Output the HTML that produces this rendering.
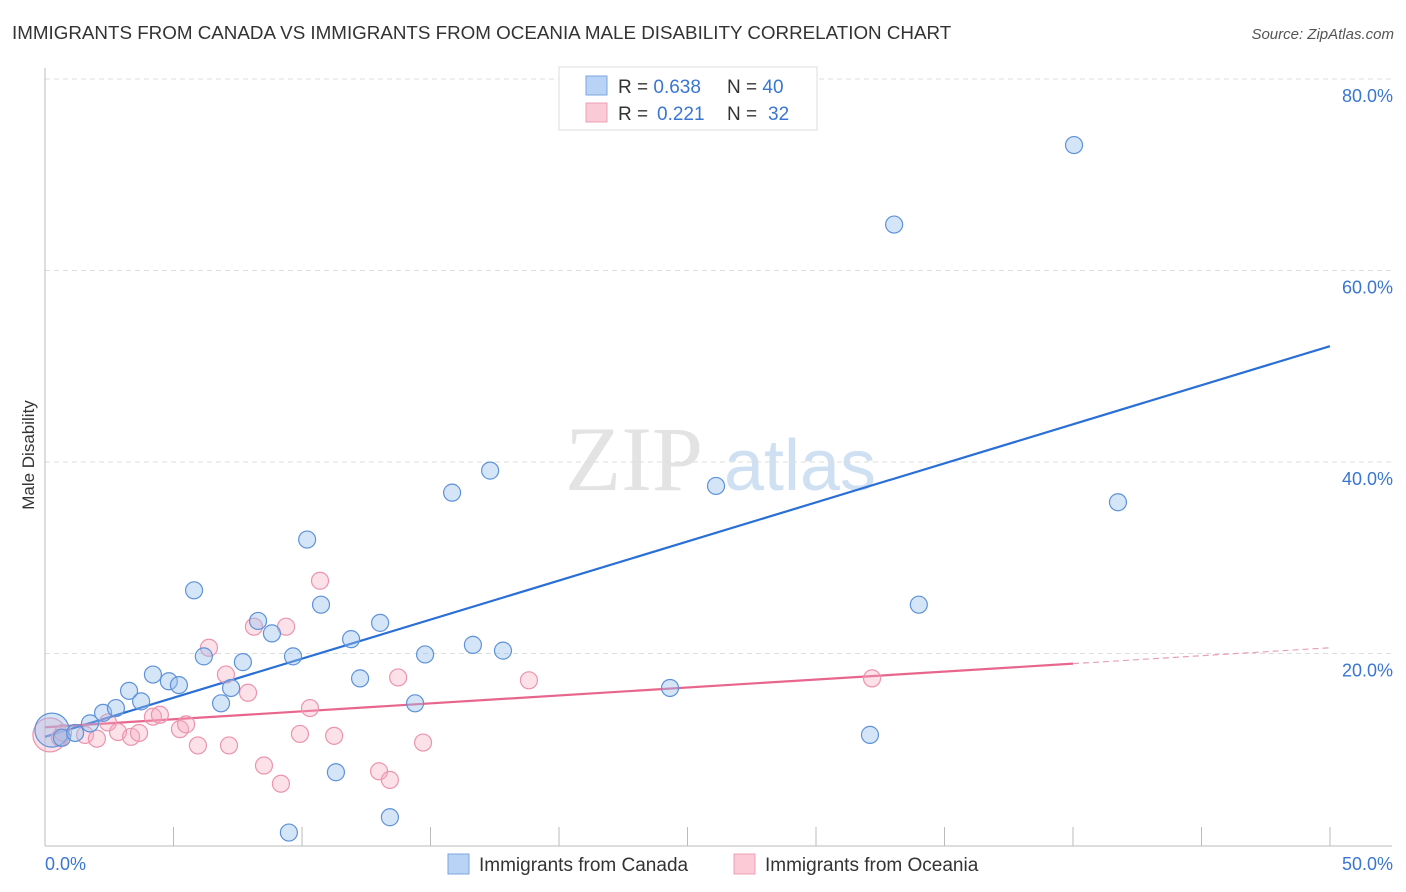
<!DOCTYPE html>
<html><head><meta charset="utf-8"><style>
body{margin:0;background:#fff;font-family:"Liberation Sans",sans-serif}
</style></head><body>
<svg id="c" width="1406" height="892" xmlns="http://www.w3.org/2000/svg" style="display:block">
<text x="12" y="39" font-size="18.8" fill="#333">IMMIGRANTS FROM CANADA VS IMMIGRANTS FROM OCEANIA MALE DISABILITY CORRELATION CHART</text>
<text x="1394" y="39" font-size="15" fill="#555" text-anchor="end" font-style="italic">Source: ZipAtlas.com</text>
<text x="34" y="455" font-size="17" fill="#333" transform="rotate(-90 34 455)" text-anchor="middle">Male Disability</text>
<g>
<text x="634" y="490" font-size="92" fill="#e3e3e3" font-family="Liberation Serif,serif" text-anchor="middle">ZIP</text>
<text x="800" y="490" font-size="72" fill="#cfe0f3" text-anchor="middle">atlas</text>
</g>
<g id="grid"></g><g id="axes"></g><g id="lines"></g><g id="pts"></g>
<g>
<rect x="559" y="67" width="258" height="63" fill="#fff" stroke="#ddd"/>
<rect x="586" y="76" width="21" height="19" fill="#b8d3f5" stroke="#7aa6e0"/>
<rect x="586" y="103" width="21" height="19" fill="#fbcad7" stroke="#ee9fb6"/>
<text x="618" y="93" font-size="19" fill="#333">R = <tspan fill="#3a76d1">0.638</tspan><tspan x="727">N = </tspan><tspan fill="#3a76d1">40</tspan></text>
<text x="618" y="120" font-size="19" fill="#333">R = <tspan x="657" fill="#3a76d1">0.221</tspan><tspan x="727">N = </tspan><tspan x="768" fill="#3a76d1">32</tspan></text>
</g>
<g>
<rect x="448" y="854" width="21" height="20" fill="#b8d3f5" stroke="#7aa6e0"/>
<text x="479" y="871" font-size="19" fill="#333">Immigrants from Canada</text>
<rect x="734" y="854" width="21" height="20" fill="#fbcad7" stroke="#ee9fb6"/>
<text x="765" y="871" font-size="19" fill="#333">Immigrants from Oceania</text>
</g>
</svg>
<script>
const canadaX=[0.27,0.66,1.17,1.75,2.26,2.76,3.27,3.74,4.2,4.82,5.21,5.8,6.18,6.85,7.24,7.7,8.29,8.83,9.65,10.2,10.74,11.32,11.91,12.26,13.04,14.4,14.79,15.84,16.65,17.32,17.82,9.49,13.42,24.32,26.11,32.1,33.04,34.0,40.04,41.75];
const canadaY=[12.0,11.2,11.7,12.7,13.8,14.3,16.1,15.0,17.8,17.1,16.7,26.6,19.7,14.8,16.4,19.1,23.4,22.1,19.7,31.9,25.1,7.6,21.5,17.4,23.2,14.8,19.9,36.8,20.9,39.1,20.3,1.3,2.9,16.4,37.5,11.5,64.8,25.1,73.1,35.8];
const oceaniaX=[0.19,0.58,0.7,1.56,2.02,2.45,2.84,3.35,3.66,4.2,4.47,5.25,5.49,5.95,6.38,7.04,7.16,7.9,8.13,8.52,9.18,9.38,9.92,10.31,10.7,11.25,13.0,13.42,13.74,14.71,18.83,32.18];
const oceaniaY=[11.5,11.2,11.7,11.5,11.1,12.8,11.8,11.3,11.7,13.4,13.6,12.1,12.6,10.4,20.6,17.8,10.4,15.9,22.8,8.3,6.4,22.8,11.6,14.3,27.6,11.4,7.7,6.8,17.5,10.7,17.2,17.4];
const trendCanada=[11.3,52.1];
const trendOceania=[12.3,20.6];
const yTicks=[20,40,60,80];
const yTickLabels=["20.0%","40.0%","60.0%","80.0%"];
const xTicks=[0,5,10,15,20,25,30,35,40,45,50];
const NS="http://www.w3.org/2000/svg";
const X=v=>45+v*25.7, Y=v=>845-v*9.575;
function mk(p,t,a){const e=document.createElementNS(NS,t);for(const k in a)e.setAttribute(k,a[k]);document.getElementById(p).appendChild(e);return e;}
yTicks.forEach((t,i)=>{
 const g=mk('grid','line',{x1:45,x2:1392,y1:Y(t),y2:Y(t),stroke:'#ddd','stroke-dasharray':'5,4'});
 
 
 const l=mk('grid','text',{x:1393,y:Y(t)+23,'font-size':18,fill:'#3a76d1','text-anchor':'end'});
 l.textContent=yTickLabels[i];
 
 
});
const topLine=mk('grid','line',{x1:45,x2:1392,y1:79,y2:79,stroke:'#ddd','stroke-dasharray':'5,4'});
mk('axes','line',{x1:45,x2:45,y1:68,y2:846,stroke:'#bbb'});
mk('axes','line',{x1:45,x2:1392,y1:846,y2:846,stroke:'#bbb'});
xTicks.forEach(t=>{const e=mk('axes','line',{x1:X(t),x2:X(t),y1:827,y2:846,stroke:'#bbb'});
 
 });
let a=mk('axes','text',{x:45,y:870,'font-size':18,fill:'#3a76d1'});a.textContent='0.0%';

let b=mk('axes','text',{x:1393,y:870,'font-size':18,fill:'#3a76d1','text-anchor':'end'});b.textContent='50.0%';

function pts(xs,ys,fill,st,nm){xs.forEach((x,i)=>{const c=mk('pts','circle',{cx:X(x),cy:Y(ys[i]),r:i==0?17:8.5,fill:fill,stroke:st,'stroke-width':1.2});
 
 });}
pts(oceaniaX,oceaniaY,'rgba(245,170,192,0.35)','#eb94ae','point-oceania');
pts(canadaX,canadaY,'rgba(150,190,238,0.4)','#5e92d8','point-canada');
const tc=mk('lines','line',{x1:X(0),y1:Y(trendCanada[0]),x2:X(50),y2:Y(trendCanada[1]),stroke:'#2a6fd6','stroke-width':2.2});

const po=v=>trendOceania[0]+(trendOceania[1]-trendOceania[0])*v/50;
const to=mk('lines','line',{x1:X(0),y1:Y(po(0)),x2:X(40),y2:Y(po(40)),stroke:'#e8668e','stroke-width':2.2});

const td=mk('lines','line',{x1:X(40),y1:Y(po(40)),x2:X(50),y2:Y(po(50)),stroke:'#e8a0b6','stroke-width':1.2,'stroke-dasharray':'6,4'});

</script>
</body></html>
